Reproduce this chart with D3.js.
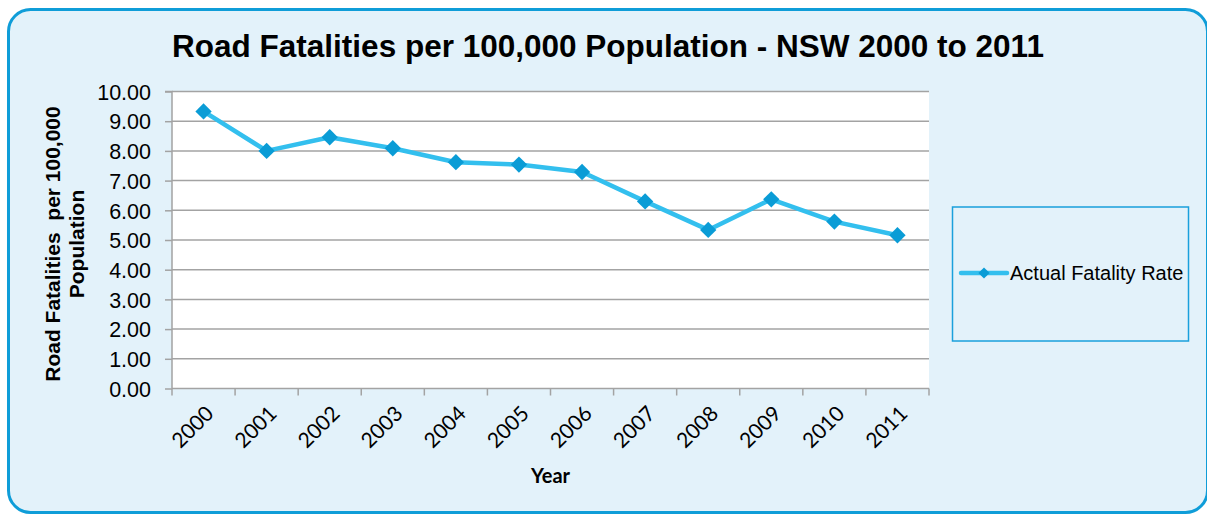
<!DOCTYPE html>
<html>
<head>
<meta charset="utf-8">
<script src="https://cdn.jsdelivr.net/npm/d3@7"></script>
<style>
  html, body { margin: 0; padding: 0; background: #ffffff; }
  svg { display: block; }
</style>
</head>
<body>
<svg id="chart" width="1207" height="514"></svg>
<script>
const years = ["2000","2001","2002","2003","2004","2005","2006","2007","2008","2009","2010","2011"];
const fatalityRate = [9.33, 8.00, 8.46, 8.09, 7.62, 7.54, 7.29, 6.30, 5.34, 6.37, 5.62, 5.16];
const yTicks = [0,1,2,3,4,5,6,7,8,9,10];
const titleText = "Road Fatalities per 100,000 Population - NSW 2000 to 2011";
const yTitleLines = ["Road Fatalities  per 100,000", "Population"];
const xTitleText = "Year";
const seriesName = "Actual Fatality Rate";

const svg = d3.select("#chart");
const W = 1207, H = 514;
const bg = "#e3f2fa", border = "#0f9dd8";
const lineColor = "#33bfee", markerColor = "#0a9cd6", gridColor = "#a3a3a3";

// outer frame
svg.append("rect").attr("x", 0).attr("y", 0).attr("width", W).attr("height", H).attr("fill", "#ffffff");
svg.append("rect").attr("x", 8.5).attr("y", 9.5).attr("width", 1199).attr("height", 503)
  .attr("rx", 22).attr("ry", 22).attr("fill", bg).attr("stroke", border).attr("stroke-width", 3);

const plot = { left: 172, right: 929, top: 91.5, bottom: 388.5 };

const x = d3.scaleBand().domain(years).range([plot.left, plot.right]).padding(0);
const y = d3.scaleLinear().domain([0, 10]).range([plot.bottom, plot.top]);

// plot area
svg.append("rect").attr("x", plot.left).attr("y", plot.top).attr("width", plot.right - plot.left)
  .attr("height", plot.bottom - plot.top).attr("fill", "#ffffff");

// gridlines
svg.append("g").selectAll("line").data(yTicks.filter(d => d > 0)).join("line")
  .attr("x1", plot.left).attr("x2", plot.right)
  .attr("y1", d => y(d)).attr("y2", d => y(d))
  .attr("stroke", gridColor).attr("stroke-width", 1.5);

// y axis
const yAxis = d3.axisLeft(y).tickValues(yTicks).tickFormat(d3.format(".2f")).tickSize(7).tickPadding(14);
const gy = svg.append("g").attr("transform", `translate(${plot.left},0)`).call(yAxis);
gy.select(".domain").attr("stroke", gridColor).attr("stroke-width", 1.5).attr("d", `M-7,${plot.top}H0V${plot.bottom}`);
gy.selectAll(".tick line").attr("stroke", gridColor).attr("stroke-width", 1.5);
gy.selectAll(".tick text").attr("font-family", "Liberation Sans, Arial, sans-serif")
  .attr("font-size", 21.5).attr("fill", "#000").attr("dy", "0.36em");

// x axis
const xAxis = d3.axisBottom(x).tickSize(0).tickFormat("");
const gx = svg.append("g").attr("transform", `translate(0,${plot.bottom})`).call(xAxis);
gx.select(".domain").attr("stroke", gridColor).attr("stroke-width", 1.5).attr("d", `M${plot.left},0H${plot.right}`);
const boundaries = years.map(d => x(d)).concat([x(years[years.length - 1]) + x.bandwidth()]);
gx.selectAll(".btick").data(boundaries).join("line").attr("class", "btick")
  .attr("x1", d => d).attr("x2", d => d).attr("y1", 0).attr("y2", 7)
  .attr("stroke", gridColor).attr("stroke-width", 1.5);
gx.selectAll(".xlab").data(years).join("text").attr("class", "xlab")
  .attr("transform", d => `translate(${x(d) + x.bandwidth() / 2 + 1},${16}) rotate(-45)`)
  .attr("text-anchor", "end").attr("dy", "0.7em")
  .attr("font-family", "Lato, 'Open Sans', sans-serif").attr("font-size", 21).attr("fill", "#000")
  .text(d => d);

// axis titles
svg.append("text").attr("x", (plot.left + plot.right) / 2).attr("y", 483)
  .attr("text-anchor", "middle").attr("font-family", "Lato, sans-serif").attr("font-weight", "bold")
  .attr("font-size", 20).attr("fill", "#000").text(xTitleText);

const yt = svg.append("text").attr("transform", `translate(60,244) rotate(-90)`)
  .attr("text-anchor", "middle").attr("font-family", "Liberation Sans, Arial, sans-serif")
  .attr("font-weight", "bold").attr("font-size", 21).attr("fill", "#000");
yTitleLines.forEach((t, i) => {
  yt.append("tspan").attr("x", 0).attr("y", i * 24).attr("xml:space", "preserve").text(t);
});

// title
svg.append("text").attr("x", 608).attr("y", 57).attr("text-anchor", "middle")
  .attr("font-family", "Liberation Sans, Arial, sans-serif").attr("font-weight", "bold")
  .attr("font-size", 31.5).attr("fill", "#000").text(titleText);

// series line
const line = d3.line().x((d, i) => x(years[i]) + x.bandwidth() / 2).y(d => y(d));
svg.append("path").datum(fatalityRate).attr("d", line).attr("fill", "none")
  .attr("stroke", lineColor).attr("stroke-width", 4.5).attr("stroke-linejoin", "round");

const diamond = d3.symbol().type(d3.symbolDiamond2).size(170);
svg.append("g").selectAll("path").data(fatalityRate).join("path")
  .attr("transform", (d, i) => `translate(${x(years[i]) + x.bandwidth() / 2},${y(d)})`)
  .attr("d", diamond).attr("fill", markerColor);

// legend
svg.append("rect").attr("x", 952.5).attr("y", 207).attr("width", 236).attr("height", 134)
  .attr("fill", "none").attr("stroke", "#1aa0dc").attr("stroke-width", 1.5);
svg.append("line").attr("x1", 961).attr("x2", 1007).attr("y1", 273).attr("y2", 273)
  .attr("stroke", lineColor).attr("stroke-width", 4.5).attr("stroke-linecap", "round");
svg.append("path").attr("transform", "translate(984,273)").attr("d", d3.symbol().type(d3.symbolDiamond2).size(80)).attr("fill", markerColor);
svg.append("text").attr("x", 1010).attr("y", 280).attr("font-family", "Liberation Sans, Arial, sans-serif")
  .attr("font-size", 20).attr("fill", "#000").text(seriesName);
</script>
</body>
</html>
